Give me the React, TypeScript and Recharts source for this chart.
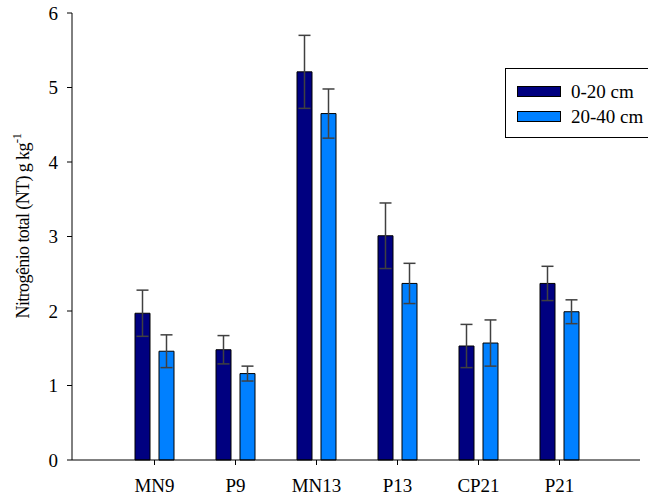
import React from "react";
import { BarChart, Bar, XAxis, YAxis, ErrorBar, Legend } from "recharts";

const categories = ["MN9", "P9", "MN13", "P13", "CP21", "P21"];
const depth0to20 = [1.97, 1.48, 5.21, 3.01, 1.53, 2.37];
const err0to20 = [0.31, 0.19, 0.49, 0.44, 0.29, 0.23];
const depth20to40 = [1.46, 1.16, 4.65, 2.37, 1.57, 1.99];
const err20to40 = [0.22, 0.1, 0.33, 0.27, 0.31, 0.16];
const yTicks = [0, 1, 2, 3, 4, 5, 6];
const seriesNames = ["0-20 cm", "20-40 cm"];
const colors = ["#000080", "#0080ff"];

const data = categories.map((c, i) => ({
  name: c,
  a: depth0to20[i],
  ae: err0to20[i],
  b: depth20to40[i],
  be: err20to40[i],
}));

const FONT = "Times New Roman, Liberation Serif, DejaVu Serif, serif";

const YLabel = () => (
  <text
    x={0}
    y={0}
    transform="translate(29,226) rotate(-90)"
    textAnchor="middle"
    fontFamily={FONT}
    fontSize={18}
    letterSpacing={-0.6}
    fill="#000"
  >
    Nitrogênio total (NT) g kg
    <tspan dy={-8} fontSize={13}>-1</tspan>
  </text>
);

const LegendBox = () => (
  <div
    style={{
      width: 150,
      height: 70,
      border: "1px solid #000",
      background: "#fff",
      boxSizing: "border-box",
      fontFamily: FONT,
      fontSize: 19,
      paddingTop: 10,
      paddingLeft: 11,
    }}
  >
    {seriesNames.map((n, i) => (
      <div key={n} style={{ display: "flex", alignItems: "center", height: 25, whiteSpace: "nowrap" }}>
        <div
          style={{
            width: 44,
            height: 11,
            background: colors[i],
            border: "1px solid #000",
            marginRight: 10,
            boxSizing: "border-box",
            flexShrink: 0,
          }}
        />
        <span>{n}</span>
      </div>
    ))}
  </div>
);

export default function App() {
  return (
    <div style={{ position: "absolute", left: 0, top: 0, width: 648, height: 498, overflow: "hidden", fontFamily: FONT }}>
      <BarChart
        width={648}
        height={498}
        data={data}
        margin={{ top: 13, right: 8, bottom: 8, left: 32 }}
        barSize={15}
        barGap={9}
      >
        <XAxis
          dataKey="name"
          height={30}
          padding={{ left: 42, right: 40 }}
          axisLine={{ stroke: "#000" }}
          tickLine={{ stroke: "#000" }}
          tickSize={5}
          tickMargin={14}
          tick={{ fill: "#000", fontFamily: FONT, fontSize: 19 }}
        />
        <YAxis
          width={40}
          domain={[0, 6]}
          ticks={yTicks}
          interval={0}
          axisLine={{ stroke: "#000" }}
          tickLine={{ stroke: "#000" }}
          tickSize={5}
          tickMargin={9}
          tick={{ fill: "#000", fontFamily: FONT, fontSize: 19 }}
          label={<YLabel />}
        />
        <Legend
          layout="vertical"
          verticalAlign="middle"
          align="center"
          wrapperStyle={{ position: "absolute", left: 505, top: 68, width: 150 }}
          content={<LegendBox />}
        />
        <Bar dataKey="a" name={seriesNames[0]} fill={colors[0]} stroke="#000" strokeWidth={1} isAnimationActive={false}>
          <ErrorBar dataKey="ae" width={6} stroke="#404040" strokeWidth={1.5} direction="y" />
        </Bar>
        <Bar dataKey="b" name={seriesNames[1]} fill={colors[1]} stroke="#000" strokeWidth={1} isAnimationActive={false}>
          <ErrorBar dataKey="be" width={6} stroke="#404040" strokeWidth={1.5} direction="y" />
        </Bar>
      </BarChart>
    </div>
  );
}
